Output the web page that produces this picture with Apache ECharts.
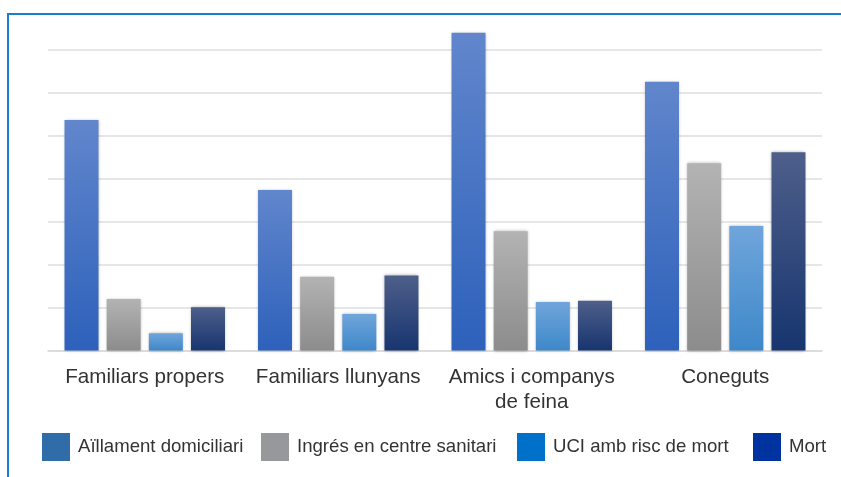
<!DOCTYPE html>
<html>
<head>
<meta charset="utf-8">
<script src="https://cdn.jsdelivr.net/npm/echarts@6/dist/echarts.min.js"></script>
<style>
  html, body { margin: 0; padding: 0; background: #fff; }
  #chart { width: 841px; height: 477px; }
</style>
</head>
<body>
<div id="chart"></div>
<script>
// categories and series (grid step = 10)
const categories = ['Familiars propers', 'Familiars llunyans', 'Amics i companys\nde feina', 'Coneguts'];
const seriesNames = ['Aïllament domiciliari', 'Ingrés en centre sanitari', 'UCI amb risc de mort', 'Mort'];
const aillament = [53.7, 37.4, 74.0, 62.6];
const ingres = [12.0, 17.2, 27.8, 43.6];
const uci = [4.0, 8.5, 11.3, 29.0];
const mort = [10.1, 17.5, 11.6, 46.2];

const seriesData = [aillament, ingres, uci, mort];
// bar gradients (top, bottom) and flat legend colours
const barColors = [
  ['#6186cc', '#2d61bb'],
  ['#b3b3b3', '#8c8c8c'],
  ['#70a5db', '#3e88c9'],
  ['#4e5f8a', '#17356f']
];
const legendColors = ['#2f6ca8', '#97989c', '#0070c8', '#0033a0'];
const legendLefts = [42, 261, 517, 753];

const chart = echarts.init(document.getElementById('chart'));

const grad = (c) => new echarts.graphic.LinearGradient(0, 0, 0, 1, [
  { offset: 0, color: c[0] },
  { offset: 1, color: c[1] }
]);

// one legend per entry so each sits where it does in the original
const legends = seriesNames.map((n, i) => ({
  left: legendLefts[i],
  top: 433,
  padding: 0,
  itemWidth: 28,
  itemHeight: 28,
  icon: 'rect',
  textStyle: { fontSize: 18.6, color: '#333', padding: [0, 0, 0, 3] },
  data: [{ name: n, itemStyle: { color: legendColors[i] } }]
}));

const option = {
  animation: false,
  textStyle: { fontFamily: 'Liberation Sans, Arial, sans-serif' },
  graphic: [{
    type: 'rect',
    shape: { x: 8, y: 14, width: 900, height: 600 },
    style: { fill: 'none', stroke: '#1b7bd5', lineWidth: 2 },
    silent: true
  }],
  grid: { left: 48, right: 19, top: 50, bottom: 126.5 },
  legend: legends,
  xAxis: {
    type: 'category',
    data: categories,
    axisLine: { lineStyle: { color: '#d9d9d9', width: 1.5 } },
    axisTick: { show: false },
    axisLabel: { fontSize: 20.6, color: '#333', margin: 14, lineHeight: 25, interval: 0 }
  },
  yAxis: {
    type: 'value',
    min: 0,
    max: 70,
    interval: 10,
    axisLabel: { show: false },
    axisLine: { show: false },
    axisTick: { show: false },
    splitLine: { lineStyle: { color: '#dedede', width: 1.5 } }
  },
  series: seriesData.map((d, i) => ({
    name: seriesNames[i],
    type: 'bar',
    data: d,
    barWidth: 34,
    barGap: '24%',
    clip: false,
    itemStyle: {
      color: grad(barColors[i]),
      shadowBlur: 3,
      shadowColor: 'rgba(0,0,0,0.3)'
    }
  }))
};

chart.setOption(option);
</script>
</body>
</html>
